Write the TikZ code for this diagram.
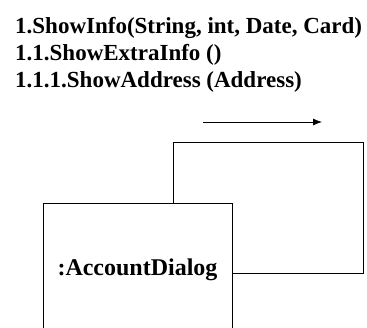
\documentclass[tikz,border=0pt]{standalone}
\usepackage{fontspec}
\setmainfont{Liberation Serif}
\usetikzlibrary{arrows.meta}

\begin{document}
\begin{tikzpicture}[x=1pt,y=-1pt]
  \useasboundingbox (0,0) rectangle (367,327);
  \clip (0,0) rectangle (367,327);
  \node [anchor=base west,inner sep=0pt,font=\bfseries\fontsize{23}{23}\selectfont] (msgA) at (15, 33) {1.ShowInfo(String, int, Date, Card)};
  \node [anchor=base west,inner sep=0pt,font=\bfseries\fontsize{23}{23}\selectfont] (msgB) at (15, 60) {1.1.ShowExtraInfo ()};
  \node [anchor=base west,inner sep=0pt,font=\bfseries\fontsize{23}{23}\selectfont] (msgC) at (15, 87) {1.1.1.ShowAddress (Address)};
  \node [draw,thick,minimum width=189pt,minimum height=134pt,font=\bfseries\fontsize{24}{24}\selectfont] (dlg) at (137.5, 270) {:AccountDialog};
  \coordinate (aa) at (203, 122);
  \coordinate (ab) at (322, 122);
  \draw [thick,-{Latex[length=9pt,width=7pt]}] (aa) -- (ab);
  \coordinate (la) at (173, 142);
  \coordinate (lb) at (363, 142);
  \coordinate (lc) at (363, 273);
  \draw [thick] (dlg.north -| la) -- (la) -- (lb) -- (lc) -- (lc -| dlg.east);
\end{tikzpicture}
\end{document}
